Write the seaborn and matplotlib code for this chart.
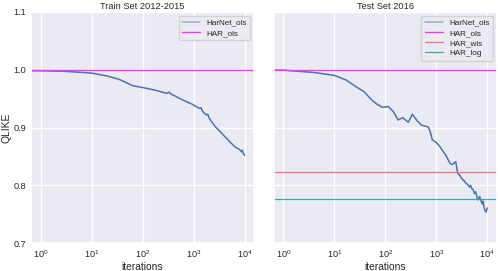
import matplotlib
matplotlib.use("Agg")
import matplotlib.pyplot as plt
import seaborn as sns

# HarNet training curve on the train set (iteration, QLIKE)
train_iter = [0, 1, 3, 10, 20, 35, 65, 100, 185, 300, 330, 360, 600, 950,
              1300, 1400, 1500, 1750, 1900, 2000, 2300, 2700, 3400, 4250, 5200,
              6600, 8000, 8700, 9000, 9500, 10000]
train_qlike = [0.999, 0.998, 0.997, 0.994, 0.989, 0.983, 0.972, 0.969, 0.964,
               0.959, 0.961, 0.958, 0.948, 0.940, 0.933, 0.934, 0.928, 0.922,
               0.923, 0.917, 0.909, 0.901, 0.892, 0.883, 0.875, 0.866, 0.862,
               0.858, 0.861, 0.855, 0.852]

# HarNet curve on the test set
test_iter = [0, 1, 4, 10, 17, 26, 38, 55, 69, 87, 115, 145, 178, 219, 282,
             339, 417, 513, 692, 759, 832, 1000, 1100, 1175, 1280, 1380, 1585,
             1860, 2040, 2250, 2400, 2630, 2850, 3090, 3300, 3500, 3800, 4170,
             4500, 4700, 5000, 5250, 5600, 5900, 6300, 6600, 7100, 7590, 8000,
             8300, 8600, 8900, 9400, 10000]
test_qlike = [0.999, 0.999, 0.995, 0.990, 0.982, 0.971, 0.962, 0.947, 0.940,
              0.935, 0.936, 0.927, 0.913, 0.917, 0.909, 0.923, 0.912, 0.904,
              0.901, 0.893, 0.879, 0.874, 0.870, 0.867, 0.862, 0.858, 0.850,
              0.838, 0.836, 0.839, 0.841, 0.821, 0.818, 0.813, 0.810, 0.808,
              0.804, 0.801, 0.797, 0.800, 0.794, 0.793, 0.786, 0.789, 0.779,
              0.775, 0.781, 0.772, 0.768, 0.773, 0.762, 0.758, 0.754, 0.761]

# HAR benchmarks
har_ols = 1.0
har_wls_test = 0.824
har_log_test = 0.7765

sns.set_theme(style="darkgrid")
plt.rcParams["font.family"] = ["Liberation Sans", "DejaVu Sans"]

husl = sns.color_palette("husl", 4)
blue = sns.color_palette("deep")[0]

fig, axs = plt.subplots(1, 2, figsize=(4.98, 2.71), dpi=100, sharey=True)
fig.subplots_adjust(left=0.062, right=0.998, bottom=0.102, top=0.957, wspace=0.087)

# Train panel
ax = axs[0]
sns.lineplot(x=train_iter, y=train_qlike, ax=ax, color=blue, lw=1.1, label="HarNet_ols")
ax.axhline(har_ols, color="#ff33ff", lw=1.0, label="HAR_ols")
ax.set_title("Train Set 2012-2015", fontsize=6.7, pad=2)
ax.set_ylabel("QLIKE", fontsize=7.4)
ax.yaxis.set_label_coords(-0.085, 0.5)

# Test panel
ax = axs[1]
sns.lineplot(x=test_iter, y=test_qlike, ax=ax, color=blue, lw=1.1, label="HarNet_ols")
ax.axhline(har_ols, color="#ff33ff", lw=1.0, label="HAR_ols")
ax.axhline(har_wls_test, color=husl[0], lw=0.9, label="HAR_wls")
ax.axhline(har_log_test, color=husl[2], lw=0.9, label="HAR_log")
ax.set_title("Test Set 2016", fontsize=6.7, pad=2)
ax.set_ylabel("")

for ax in axs:
    ax.set_xscale("log")
    ax.set_xlim(10 ** -0.19, 10 ** 4.19)
    ax.set_ylim(0.7, 1.1)
    ax.set_yticks([0.7, 0.8, 0.9, 1.0, 1.1])
    ax.set_xticks([1, 10, 100, 1000, 10000])
    ax.minorticks_off()
    ax.tick_params(labelsize=6.6, length=0, pad=3.5)
    ax.set_xlabel("iterations", fontsize=7.4)
    ax.xaxis.set_label_coords(0.5, -0.08)
    leg = ax.legend(loc="upper right", fontsize=5.9, handlelength=2.2,
                    borderpad=0.4, labelspacing=0.3)
    leg.legend_handles[0].set_alpha(0.5)

fig.savefig("out.png", dpi=100)
